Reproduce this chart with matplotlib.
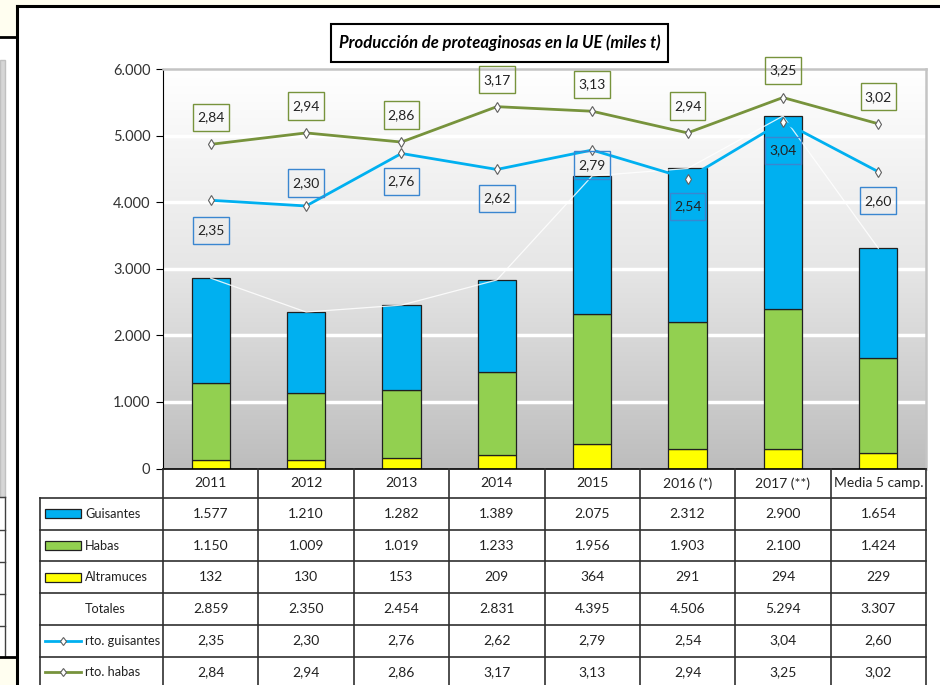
import numpy as np
import matplotlib.pyplot as plt
from matplotlib import transforms
from matplotlib.patches import Rectangle
from matplotlib.lines import Line2D
from matplotlib.path import Path
from matplotlib.colors import LinearSegmentedColormap

plt.rcParams['font.family'] = ['Lato', 'DejaVu Sans']

#region Datos
categorias = ["2011", "2012", "2013", "2014", "2015", "2016 (*)", "2017 (**)", "Media 5 camp."]
guisantes = [1577, 1210, 1282, 1389, 2075, 2312, 2900, 1654]
habas = [1150, 1009, 1019, 1233, 1956, 1903, 2100, 1424]
altramuces = [132, 130, 153, 209, 364, 291, 294, 229]
totales = [2859, 2350, 2454, 2831, 4395, 4506, 5294, 3307]
rto_guisantes = [2.35, 2.30, 2.76, 2.62, 2.79, 2.54, 3.04, 2.60]
rto_habas = [2.84, 2.94, 2.86, 3.17, 3.13, 2.94, 3.25, 3.02]
titulo = "Producción de proteaginosas en la UE (miles t)"
#endregion

# desplazamiento vertical de las etiquetas (px)
off_guis = [-30, 23, -28, -29, -15, -28, -29, -29]
off_habas = 27

c_guis = '#00b0f0'
c_habas = '#92d050'
c_altr = '#ffff00'
c_lin_habas = '#77933c'
c_box_guis = '#3a86d0'
c_txt = '#222222'

W, H = 940, 685


def fx(px):
    return px / W


def fy(py):
    return 1 - py / H


def miles(v):
    return f"{v:,}".replace(",", ".")


def dec(v):
    return f"{v:.2f}".replace(".", ",")


def caja(x0, y0, width, height, mutation_size):
    # caja rectangular con mas relleno vertical que horizontal
    px = 0.3 * mutation_size
    py = 0.55 * mutation_size
    verts = [(x0 - px, y0 - py), (x0 + width + px, y0 - py), (x0 + width + px, y0 + height + py),
             (x0 - px, y0 + height + py), (x0 - px, y0 - py)]
    return Path(verts, closed=True)


fig = plt.figure(figsize=(9.4, 6.85), dpi=100)
fig.patch.set_facecolor('white')

# marco exterior
fig.add_artist(Rectangle((0, fy(6)), 1, 6 / H, transform=fig.transFigure, fc='#fffef0', ec='none'))
fig.add_artist(Rectangle((0, fy(37)), fx(17), 37 / H, transform=fig.transFigure, fc='#fffef0', ec='none'))
fig.add_artist(Rectangle((0, 0), fx(17), 28 / H, transform=fig.transFigure, fc='#fffef0', ec='none'))
fig.add_artist(Rectangle((0, fy(497)), fx(5), (497 - 60) / H, transform=fig.transFigure,
                         fc='#d6d6d6', ec='#c0c0c0', lw=1))
for yy in [497, 530, 562, 594, 626]:
    fig.add_artist(Line2D([0, fx(5)], [fy(yy), fy(yy)], transform=fig.transFigure, color='#404040', lw=1))
fig.add_artist(Line2D([fx(5), fx(5)], [fy(497), fy(657)], transform=fig.transFigure, color='#404040', lw=1))
fig.add_artist(Line2D([0, fx(17)], [fy(37), fy(37)], transform=fig.transFigure, color='black', lw=2))
fig.add_artist(Line2D([0, fx(17)], [fy(657), fy(657)], transform=fig.transFigure, color='black', lw=2))
fig.add_artist(Line2D([fx(17), 1], [fy(6), fy(6)], transform=fig.transFigure, color='black', lw=2.2))
fig.add_artist(Line2D([fx(17), fx(17)], [fy(6), 0], transform=fig.transFigure, color='black', lw=2.2))

ax = fig.add_axes([fx(163), fy(468.5), fx(926) - fx(163), fy(69) - fy(468.5)])
x = np.arange(len(categorias))

# fondo degradado
cmap = LinearSegmentedColormap.from_list('fondo', ['#bdbdbd', '#e6e6e6', '#ffffff'])
grad = np.linspace(0, 1, 256).reshape(-1, 1)
ax.imshow(grad, extent=[-0.5, len(categorias) - 0.5, 0, 6000], aspect='auto',
          cmap=cmap, origin='lower', zorder=0)
for g in range(1000, 6000, 1000):
    ax.axhline(g, color='white', lw=2.5, zorder=0.5)

bot2 = np.array(altramuces) + np.array(habas)
ax.bar(x, altramuces, 0.4, color=c_altr, edgecolor='#202020', lw=0.9, zorder=2)
ax.bar(x, habas, 0.4, bottom=altramuces, color=c_habas, edgecolor='#202020', lw=0.9, zorder=2)
ax.bar(x, guisantes, 0.4, bottom=bot2, color=c_guis, edgecolor='#202020', lw=0.9, zorder=2)
ax.plot(x, totales, color='white', lw=0.9, alpha=0.85, zorder=3)

ax.set_xlim(-0.5, len(categorias) - 0.5)
ax.set_ylim(0, 6000)
ax.set_xticks([])
ax.set_yticks(range(0, 7000, 1000))
ax.set_yticklabels([miles(v) for v in range(0, 7000, 1000)])
ax.tick_params(axis='y', direction='out', length=5, color='black', labelsize=10.5,
               labelcolor='#333333', pad=4)
ax.spines['left'].set_color('black')
ax.spines['bottom'].set_color('black')
ax.spines['bottom'].set_linewidth(1.2)
for s in ['top', 'right']:
    ax.spines[s].set_color('#c4c4c4')
    ax.spines[s].set_linewidth(1.8)

# eje secundario para rendimientos
ax2 = ax.twinx()
ax2.set_ylim(0, 3.5)
ax2.axis('off')
ax2.plot(x, rto_guisantes, color=c_guis, lw=2, marker='d', ms=5, mfc='white', mec='#606060', mew=0.8)
ax2.plot(x, rto_habas, color=c_lin_habas, lw=2, marker='d', ms=5, mfc='white', mec='#606060', mew=0.8)

for i in range(len(categorias)):
    ax2.annotate(dec(rto_habas[i]), (x[i], rto_habas[i]), xytext=(0, off_habas * 0.72),
                 textcoords='offset points', ha='center', va='center', fontsize=10, color=c_txt,
                 bbox=dict(boxstyle=caja, fc='none', ec=c_lin_habas, lw=1))
    ax2.annotate(dec(rto_guisantes[i]), (x[i], rto_guisantes[i]), xytext=(0, off_guis[i] * 0.72),
                 textcoords='offset points', ha='center', va='center', fontsize=10, color=c_txt,
                 bbox=dict(boxstyle=caja, fc='none', ec=c_box_guis, lw=1))

# titulo
fig.add_artist(Rectangle((fx(331), fy(62)), fx(668) - fx(331), 38 / H, transform=fig.transFigure,
                         fc='white', ec='black', lw=1.5))
fig.text(fx(499.5), fy(43), titulo, ha='center', va='center', fontsize=12,
         fontweight='bold', fontstyle='italic', color='black')

# tabla de datos
trans = transforms.blended_transform_factory(ax.transData, fig.transFigure)
x_izq = -0.5 - (163 - 40) / (926 - 163) * len(categorias)
c_lin = '#303030'
y_head_top, y_head_bot = 468.5, 498
row_h = 31.7
filas = [
    ("Guisantes", [miles(v) for v in guisantes]),
    ("Habas", [miles(v) for v in habas]),
    ("Altramuces", [miles(v) for v in altramuces]),
    ("Totales", [miles(v) for v in totales]),
    ("rto. guisantes", [dec(v) for v in rto_guisantes]),
    ("rto. habas", [dec(v) for v in rto_habas]),
]
y_end = y_head_bot + row_h * len(filas)

for i in range(len(categorias) + 1):
    fig.add_artist(Line2D([i - 0.5, i - 0.5], [fy(y_head_top), fy(y_end)], transform=trans,
                          color=c_lin, lw=1.2))
fig.add_artist(Line2D([x_izq, x_izq], [fy(y_head_bot), fy(y_end)], transform=trans, color=c_lin, lw=1.2))
for r in range(len(filas) + 1):
    yy = fy(y_head_bot + r * row_h)
    fig.add_artist(Line2D([x_izq, len(categorias) - 0.5], [yy, yy], transform=trans, color=c_lin, lw=1.2))

for i, cat in enumerate(categorias):
    fig.text(i, fy((y_head_top + y_head_bot) / 2), cat, transform=trans, ha='center', va='center',
             fontsize=10, color=c_txt)

for r, (nombre, vals) in enumerate(filas):
    yc = y_head_bot + (r + 0.5) * row_h
    for i, v in enumerate(vals):
        fig.text(i, fy(yc), v, transform=trans, ha='center', va='center', fontsize=10, color=c_txt)
    fig.text(fx(85), fy(yc), nombre, ha='left', va='center', fontsize=9.2, color=c_txt)

# claves de la leyenda
for r, col in enumerate([c_guis, c_habas, c_altr]):
    yc = y_head_bot + (r + 0.5) * row_h
    fig.add_artist(Rectangle((fx(45), fy(yc + 4.5)), fx(81) - fx(45), 9 / H, transform=fig.transFigure,
                             fc=col, ec='#202020', lw=0.9))
for r, col in [(4, c_guis), (5, c_lin_habas)]:
    yc = y_head_bot + (r + 0.5) * row_h
    fig.add_artist(Line2D([fx(45), fx(81)], [fy(yc), fy(yc)], transform=fig.transFigure, color=col, lw=2))
    fig.add_artist(Line2D([fx(63)], [fy(yc)], transform=fig.transFigure, marker='d', ms=4.5,
                          mfc='white', mec='#606060', mew=0.8, ls='none'))

fig.savefig('out.png', dpi=100)
